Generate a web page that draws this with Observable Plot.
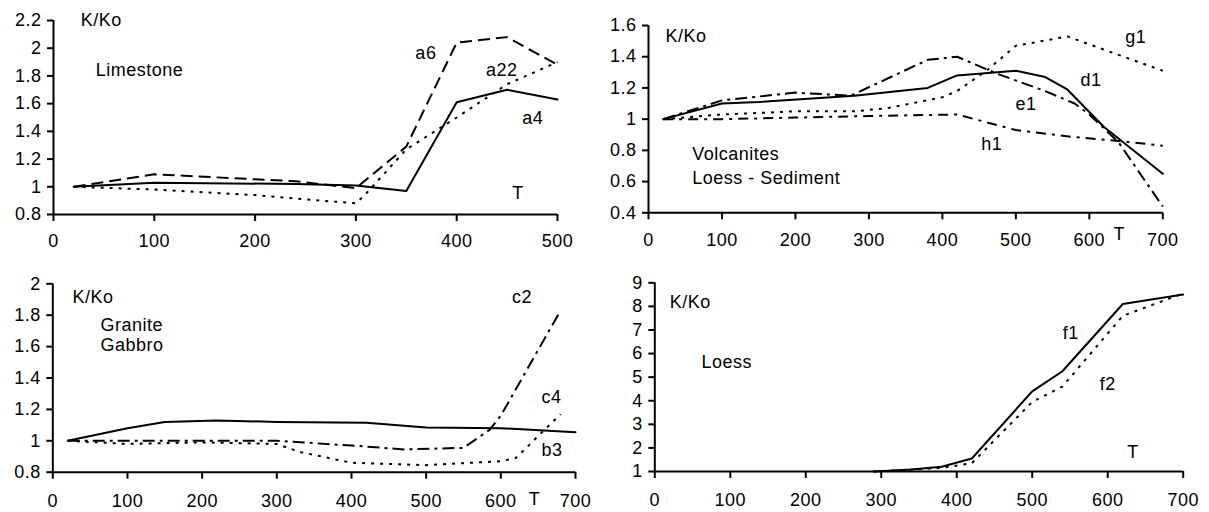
<!DOCTYPE html>
<html><head><meta charset="utf-8">
<script src="https://cdn.jsdelivr.net/npm/d3@7"></script>
<script src="https://cdn.jsdelivr.net/npm/@observablehq/plot@0.6"></script>
<style>
html,body{margin:0;padding:0;background:#fff;}
#wrap{position:relative;width:1209px;height:512px;overflow:hidden;background:#fff;}
.panel{position:absolute;}
.panel svg{overflow:visible;}
svg text{letter-spacing:0.5px;}
</style></head><body><div id="wrap"></div>
<script>
// ---------- Panel A: Limestone ----------
const limeXTicks = [0,100,200,300,400,500];
const limeYTicks = [0.8,1,1.2,1.4,1.6,1.8,2,2.2];
const limeT_a4 = [20,100,240,300,350,400,450,500];
const lime_a4  = [1.0,1.03,1.02,1.01,0.97,1.61,1.70,1.63];
const limeT_a6 = [20,100,240,300,350,400,450,500];
const lime_a6  = [1.0,1.09,1.04,0.99,1.29,2.04,2.08,1.88];
const limeT_a22 = [20,100,200,300,310,350,400,450,500];
const lime_a22  = [1.0,0.98,0.94,0.88,0.95,1.27,1.50,1.74,1.90];
const limeLabels = ["K/Ko","Limestone","a6","a22","a4","T"];
const limeLabelT = [27,42,359,429,465,455];
const limeLabelV = [2.2,1.84,1.967,1.839,1.493,0.954];

// ---------- Panel B: Volcanites / Loess - Sediment ----------
const volcXTicks = [0,100,200,300,400,500,600,700];
const volcYTicks = [0.4,0.6,0.8,1,1.2,1.4,1.6];
const volcT_d1 = [20,100,150,280,380,420,500,540,570,620,700];
const volc_d1  = [1.0,1.10,1.11,1.15,1.20,1.28,1.31,1.27,1.19,0.95,0.65];
const volcT_e1 = [20,100,200,275,380,420,475,540,580,600,640,700];
const volc_e1  = [1.0,1.12,1.17,1.15,1.38,1.40,1.29,1.18,1.10,1.03,0.85,0.44];
const volcT_g1 = [20,100,200,280,325,400,420,460,500,570,700];
const volc_g1  = [1.0,1.03,1.05,1.05,1.07,1.14,1.18,1.31,1.47,1.53,1.31];
const volcT_h1 = [20,100,200,300,420,500,580,640,700];
const volc_h1  = [1.0,1.0,1.01,1.02,1.03,0.93,0.885,0.86,0.83];
const volcLabels = ["K/Ko","Volcanites","Loess - Sediment","g1","d1","e1","h1","T"];
const volcLabelT = [23,59.5,59.5,649,588,499.5,453,633];
const volcLabelV = [1.53,0.778,0.622,1.525,1.248,1.094,0.838,0.265];

// ---------- Panel C: Granite / Gabbro ----------
const granXTicks = [0,100,200,300,400,500,600,700];
const granYTicks = [0.8,1,1.2,1.4,1.6,1.8,2];
const granT_b3 = [20,100,150,220,300,420,500,600,700];
const gran_b3  = [1.0,1.08,1.12,1.13,1.12,1.115,1.085,1.08,1.055];
const granT_c2 = [20,100,200,300,400,470,550,585,600,680];
const gran_c2  = [1.0,1.0,1.0,1.0,0.97,0.945,0.955,1.07,1.16,1.83];
const granT_c4 = [20,100,200,300,330,400,500,600,620,680];
const gran_c4  = [1.0,0.98,0.99,0.98,0.93,0.86,0.845,0.87,0.89,1.17];
const granLabels = ["K/Ko","Granite","Gabbro","c2","c4","b3","T"];
const granLabelT = [26.4,63.9,63.9,615,654.5,654.5,637.5];
const granLabelV = [1.915,1.735,1.61,1.915,1.278,0.938,0.63];

// ---------- Panel D: Loess ----------
const loessXTicks = [0,100,200,300,400,500,600,700];
const loessYTicks = [1,2,3,4,5,6,7,8,9];
const loessT_f1 = [290,340,380,420,500,540,620,700];
const loess_f1  = [1.0,1.08,1.2,1.55,4.4,5.25,8.1,8.5];
const loessT_f2 = [290,380,420,500,540,620,700];
const loess_f2  = [1.0,1.15,1.35,3.95,4.6,7.6,8.55];
const loessLabels = ["K/Ko","Loess","f1","f2","T"];
const loessLabelT = [19.9,61.9,540.5,589.5,625.8];
const loessLabelV = [8.18,5.63,6.86,4.72,1.82];

// ---------- styles ----------
const SOLID = null, DASH = "12,6", DOT = "3,6", DASHDOT = "12,5,3,5", DASHDOT2 = "10,6,3,6";
const FONT = "'Liberation Sans', Arial, sans-serif";

function rows(T, V) { return T.map((t, i) => ({T: t, v: V[i]})); }

function makePanel(cfg) {
  const marks = [];
  for (const s of cfg.series) {
    marks.push(Plot.line(rows(s.T, s.v), {
      x: "T", y: "v", stroke: "black", strokeWidth: 2,
      strokeDasharray: s.dash || undefined,
      strokeLinecap: s.dash ? "butt" : "round", strokeLinejoin: "round"
    }));
  }
  marks.push(Plot.ruleY([cfg.yDomain[0]], {stroke: "black", strokeWidth: 2}));
  marks.push(Plot.ruleX([0], {stroke: "black", strokeWidth: 2}));
  marks.push(Plot.axisX({ticks: cfg.xTicks, tickSize: 7, tickPadding: cfg.xPad, strokeWidth: 2,
    fontSize: 18, fill: "black", label: null, tickFormat: d => `${d}`}));
  marks.push(Plot.axisY({ticks: cfg.yTicks, tickSize: 6, tickPadding: 6, strokeWidth: 2,
    fontSize: 18, fill: "black", label: null, tickFormat: d => `${d}`}));
  marks.push(Plot.text(cfg.labels.map((t, i) => ({t, x: cfg.labelT[i], y: cfg.labelV[i]})), {
    x: "x", y: "y", text: "t", textAnchor: "start", fontSize: 18, fill: "black"
  }));
  const svg = Plot.plot({
    width: cfg.width, height: cfg.height,
    marginLeft: cfg.m[0], marginRight: cfg.m[1], marginTop: cfg.m[2], marginBottom: cfg.m[3],
    x: {domain: cfg.xDomain, label: null},
    y: {domain: cfg.yDomain, label: null},
    style: {fontFamily: FONT, fontSize: "18px", background: "transparent", color: "black", overflow: "visible"},
    marks
  });
  const div = document.createElement("div");
  div.className = "panel";
  div.style.left = cfg.left + "px";
  div.style.top = cfg.top + "px";
  div.appendChild(svg);
  document.getElementById("wrap").appendChild(div);
}

makePanel({
  left: 0, top: 0, width: 600, height: 256, m: [53, 43, 20, 42], xPad: 13,
  xDomain: [0, 500], yDomain: [0.8, 2.2], xTicks: limeXTicks, yTicks: limeYTicks,
  series: [
    {T: limeT_a4, v: lime_a4, dash: SOLID},
    {T: limeT_a6, v: lime_a6, dash: DASH},
    {T: limeT_a22, v: lime_a22, dash: DOT}
  ],
  labels: limeLabels, labelT: limeLabelT, labelV: limeLabelV
});
makePanel({
  left: 600, top: 0, width: 609, height: 256, m: [48, 46.7, 25, 43.7], xPad: 13,
  xDomain: [0, 700], yDomain: [0.4, 1.6], xTicks: volcXTicks, yTicks: volcYTicks,
  series: [
    {T: volcT_d1, v: volc_d1, dash: SOLID},
    {T: volcT_e1, v: volc_e1, dash: DASHDOT},
    {T: volcT_g1, v: volc_g1, dash: DOT},
    {T: volcT_h1, v: volc_h1, dash: DASHDOT2}
  ],
  labels: volcLabels, labelT: volcLabelT, labelV: volcLabelV
});
makePanel({
  left: 0, top: 256, width: 600, height: 256, m: [52.3, 25, 27.3, 40.3], xPad: 15,
  xDomain: [0, 700], yDomain: [0.8, 2], xTicks: granXTicks, yTicks: granYTicks,
  series: [
    {T: granT_b3, v: gran_b3, dash: SOLID},
    {T: granT_c2, v: gran_c2, dash: DASHDOT},
    {T: granT_c4, v: gran_c4, dash: DOT}
  ],
  labels: granLabels, labelT: granLabelT, labelV: granLabelV
});
makePanel({
  left: 600, top: 256, width: 609, height: 256, m: [54.3, 26.3, 26.3, 41], xPad: 15,
  xDomain: [0, 700], yDomain: [1, 9], xTicks: loessXTicks, yTicks: loessYTicks,
  series: [
    {T: loessT_f1, v: loess_f1, dash: SOLID},
    {T: loessT_f2, v: loess_f2, dash: DOT}
  ],
  labels: loessLabels, labelT: loessLabelT, labelV: loessLabelV
});
</script>
</body></html>
